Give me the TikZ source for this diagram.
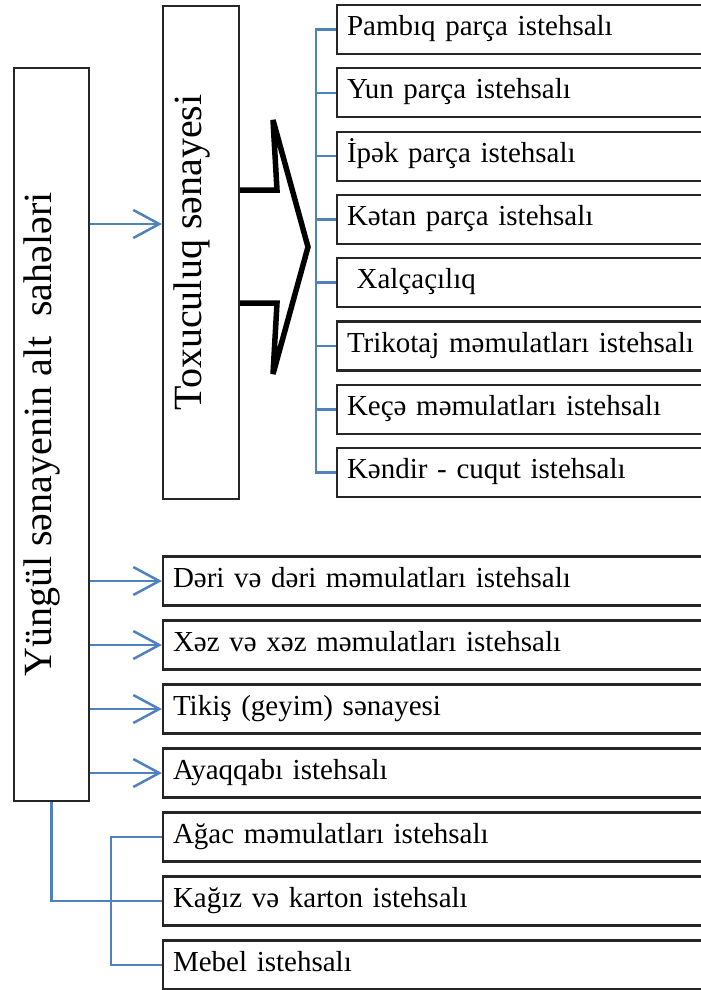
\documentclass[tikz,border=0pt]{standalone}
\usepackage{fontspec}
\setmainfont{Liberation Serif}
\usetikzlibrary{arrows.meta}
\definecolor{linkblue}{RGB}{79,129,189}

\begin{document}
\begin{tikzpicture}[x=1pt,y=-1pt,node distance=63.3pt]
  \tikzstyle{item}=[draw=black!85,line width=2.2pt,rectangle,inner xsep=10pt,inner ysep=0pt,
    minimum height=49pt,align=left,font=\fontsize{29}{34}\selectfont,text height=19pt,text depth=7pt]
  \tikzstyle{subitem}=[item,text width=380pt]
  \tikzstyle{branch}=[item,text width=560pt]
  \tikzstyle{vbox}=[draw=black!85,line width=2.2pt,rectangle,rotate=90,inner sep=0pt,
    font=\fontsize{40}{46}\selectfont,text height=14pt,text depth=14pt]
  \tikzstyle{link}=[color=linkblue,line width=2.5pt]
  \tikzstyle{linkarrow}=[link,-{Straight Barb[length=26pt,width=28pt,line width=2.5pt]}]

  \useasboundingbox (0,0) rectangle (701,990);
  \clip (0,0) rectangle (701,990);

  \node[vbox,minimum width=733pt,minimum height=75pt] (main) at (51.5,434.5) {Yüngül sənayenin alt\ \ sahələri};
  \node[vbox,minimum width=493pt,minimum height=76pt] (tox)  at (201,252.5)  {Toxuculuq sənayesi};

  \node[subitem] (p1) at (537,29.5)   {Pambıq parça istehsalı};
  \node[subitem] (p2) [below of=p1]   {Yun parça istehsalı};
  \node[subitem] (p3) [below of=p2]   {İpək parça istehsalı};
  \node[subitem] (p4) [below of=p3]   {Kətan parça istehsalı};
  \node[subitem] (p5) [below of=p4]   {\ Xalçaçılıq};
  \node[subitem] (p6) [below of=p5]   {Trikotaj məmulatları istehsalı};
  \node[subitem] (p7) [below of=p6]   {Keçə məmulatları istehsalı};
  \node[subitem] (p8) [below of=p7]   {Kəndir - cuqut istehsalı};

  \begin{scope}[node distance=64pt]
  \node[branch] (b1) at (453,581)     {Dəri və dəri məmulatları istehsalı};
  \node[branch] (b2) [below of=b1]    {Xəz və xəz məmulatları istehsalı};
  \node[branch] (b3) [below of=b2]    {Tikiş (geyim) sənayesi};
  \node[branch] (b4) [below of=b3]    {Ayaqqabı istehsalı};
  \node[branch] (b5) [below of=b4]    {Ağac məmulatları istehsalı};
  \node[branch] (b6) [below of=b5]    {Kağız və karton istehsalı};
  \node[branch] (b7) [below of=b6]    {Mebel istehsalı};
  \end{scope}

  % block arrow from the textile box to its list
  \draw[line width=5.5pt,line join=miter,miter limit=4]
    (tox.south |- 0,190) -- (277,190) -- (273,120) -- (308,247) -- (273,374) -- (277,303) -- (tox.south |- 0,303);

  \path[linkarrow]
  (main.south |- 0,224) edge (tox.north |- 0,224)
  (main.south |- b1)    edge (b1.west)
  (main.south |- b2)    edge (b2.west)
  (main.south |- b3)    edge (b3.west)
  (main.south |- b4)    edge (b4.west);

  \draw[link] (p1.west) -- ++(-20,0) |- (p8.west);
  \foreach \n in {2,...,7}
    \draw[link] (p\n.west) -- ++(-20,0);

  \draw[link] (main.west) |- (b6.west);
  \draw[link] (b5.west) -- ++(-51,0) |- (b7.west);
\end{tikzpicture}
\end{document}
